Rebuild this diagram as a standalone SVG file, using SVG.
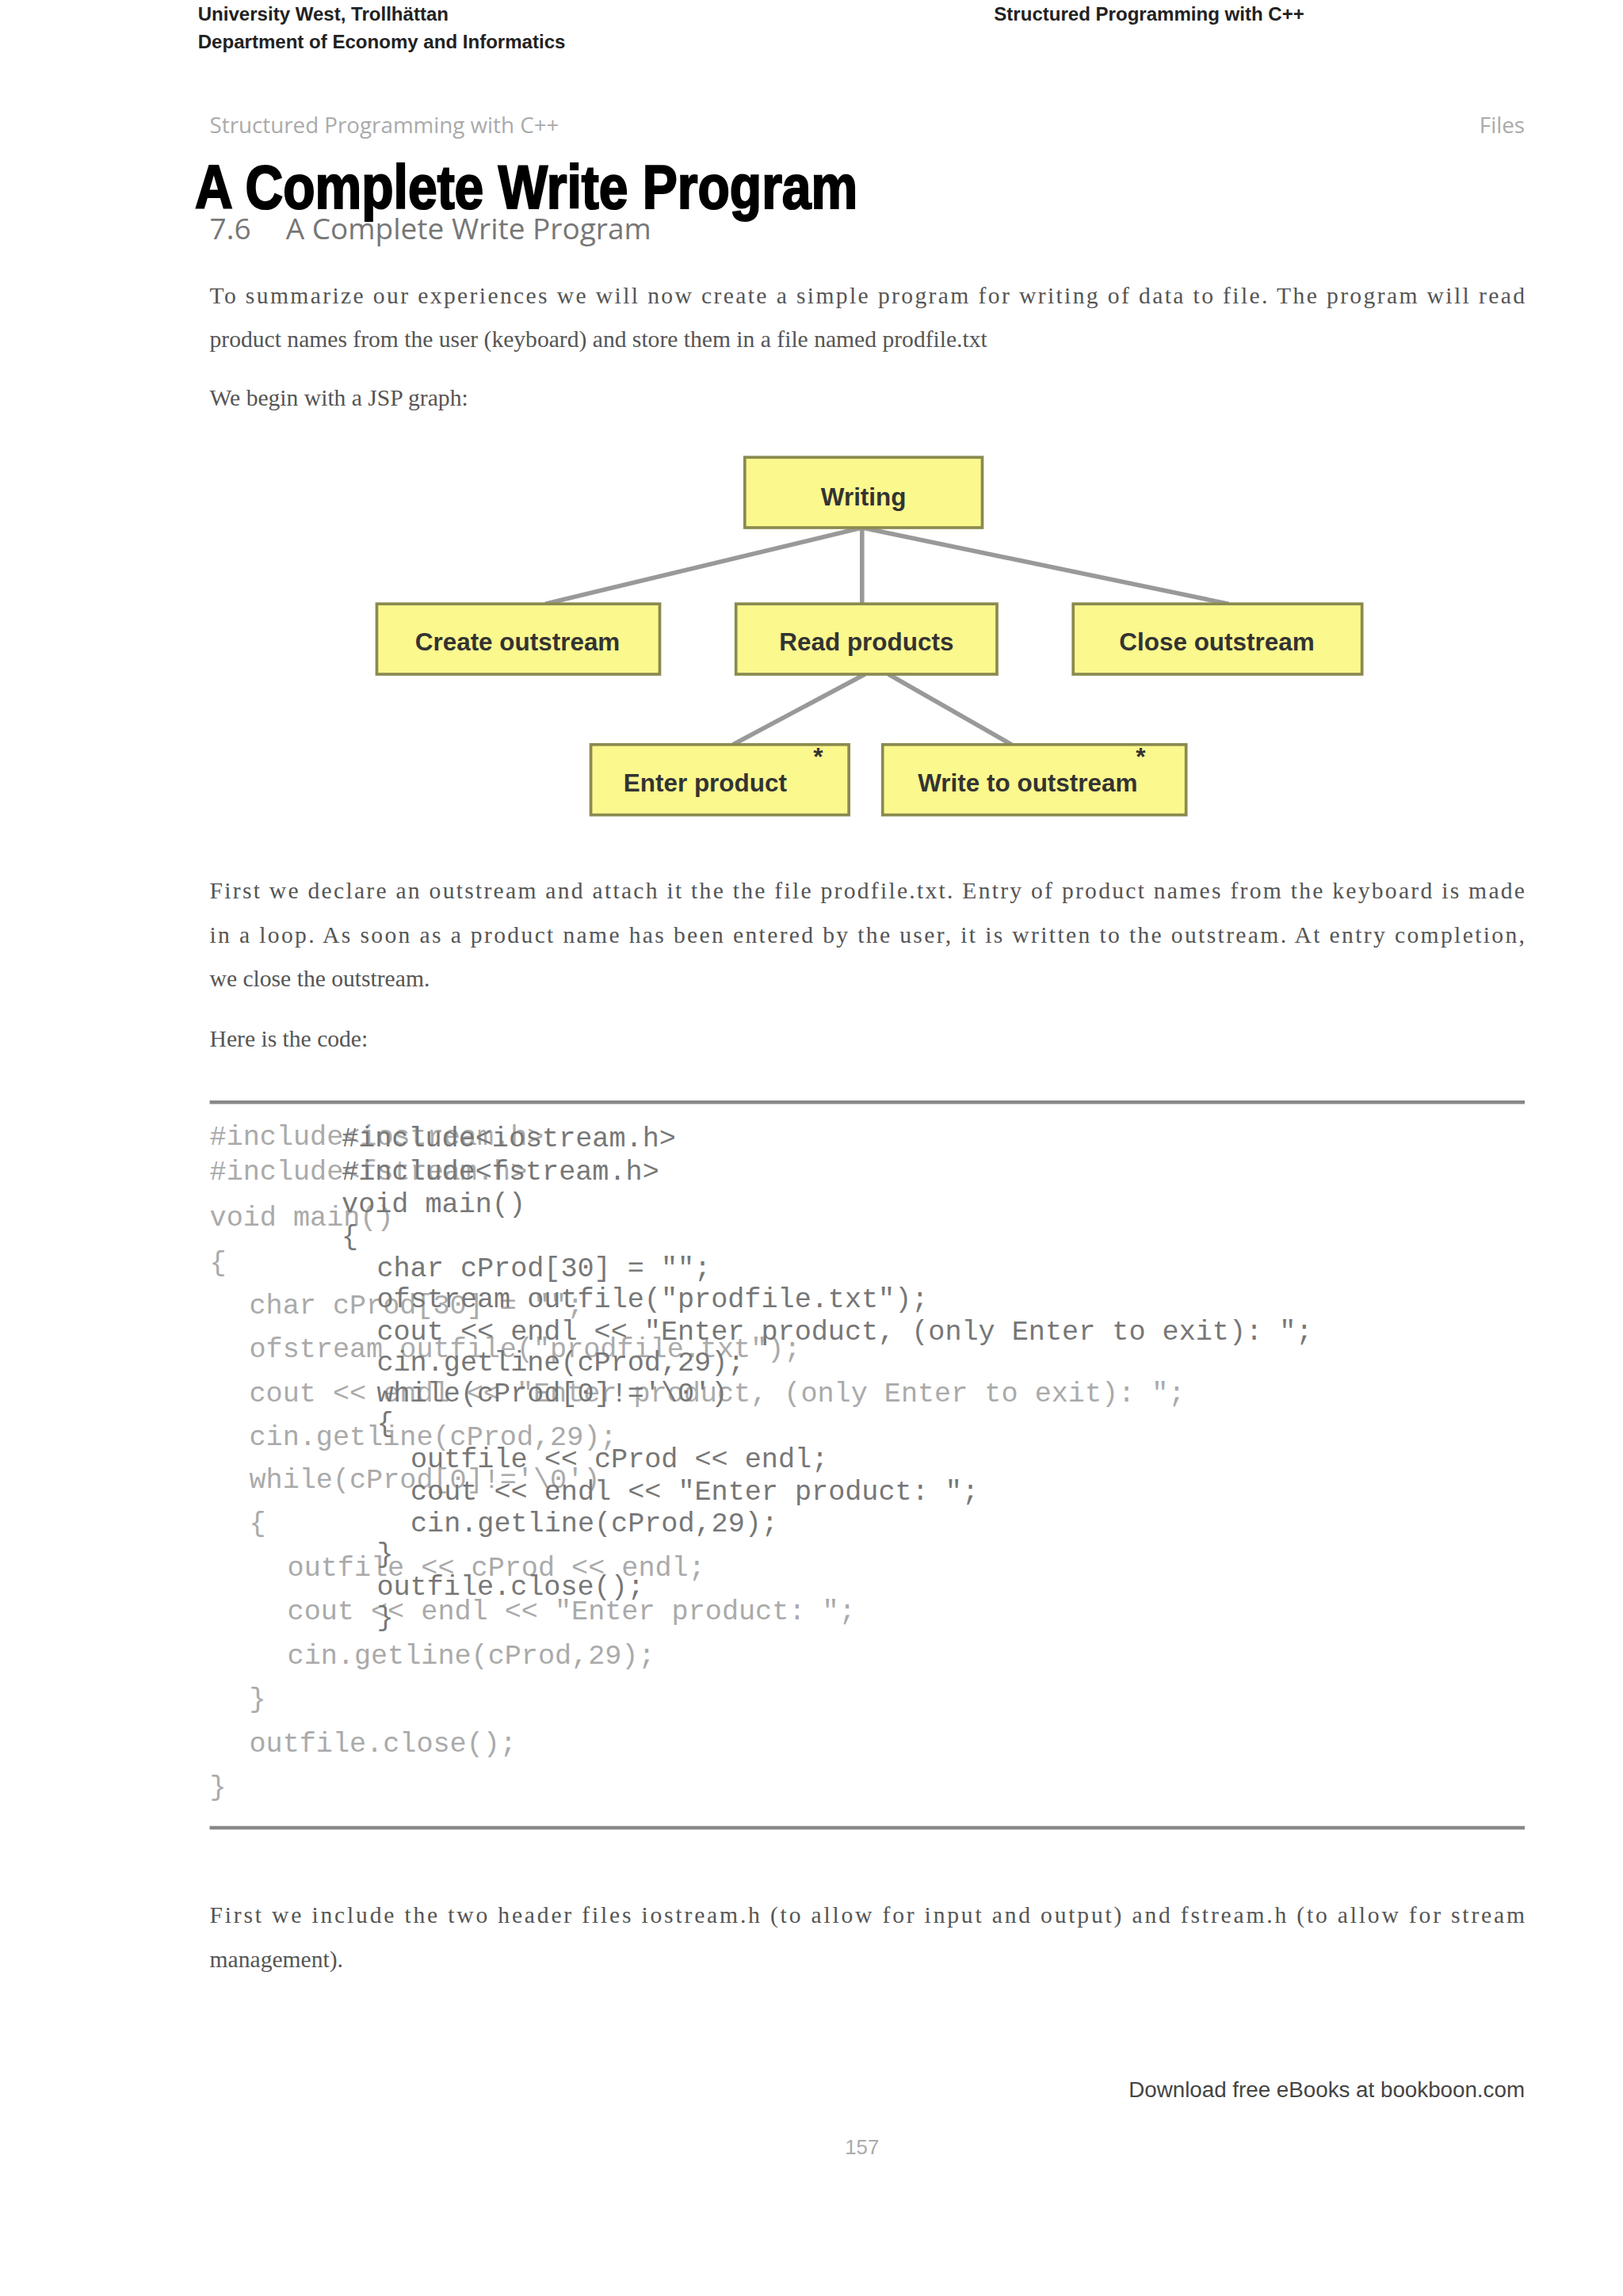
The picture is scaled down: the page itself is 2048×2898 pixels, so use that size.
<svg xmlns="http://www.w3.org/2000/svg" width="2048" height="2898" viewBox="0 0 2048 2898">
<style>
.hd{font-family:"Liberation Sans",Arial,sans-serif;font-weight:bold;font-size:13px;fill:#222}
.gr{font-family:"Open Sans","Liberation Sans",sans-serif;font-size:15px;fill:#aaa}
.body{font-family:"Liberation Serif","Times New Roman",serif;font-size:16px;fill:#555}
.nd rect{fill:#fbf88e;stroke:#8a8a50;stroke-width:2}
.nd text{font-family:"Liberation Sans",Arial,sans-serif;font-weight:bold;font-size:17px;fill:#333;text-anchor:middle}
.st{font-family:"Liberation Sans",Arial,sans-serif;font-weight:bold;font-size:12px;fill:#333}
.ca{font-family:"Liberation Mono","Courier New",monospace;font-size:19px;fill:#aaa}
.cb{font-family:"Liberation Mono","Courier New",monospace;font-size:19px;fill:#777}
.cn line{stroke:#999;stroke-width:3}
</style>
<rect width="2048" height="2898" fill="#fff"/>
<g transform="scale(1.85)">
<text class="hd" x="135" y="14">University West, Trollhättan</text>
<text class="hd" x="135" y="33">Department of Economy and Informatics</text>
<text class="hd" x="678" y="14">Structured Programming with C++</text>
<text class="gr" x="143" y="91">Structured Programming with C++</text>
<text class="gr" x="1040" y="91" text-anchor="end">Files</text>
<text x="133" y="142" font-family="'Liberation Sans Narrow','Liberation Sans',sans-serif" font-weight="900" font-size="42" textLength="452" lengthAdjust="spacingAndGlyphs" fill="#000" stroke="#000" stroke-width="1.2">A Complete Write Program</text>
<text x="143" y="163" font-family="'Open Sans','Liberation Sans',sans-serif" font-size="20" fill="#777">7.6</text>
<text x="195" y="163" font-family="'Open Sans','Liberation Sans',sans-serif" font-size="20" fill="#777">A Complete Write Program</text>
<text class="body" x="143" y="207" textLength="897" lengthAdjust="spacing">To summarize our experiences we will now create a simple program for writing of data to file. The program will read</text>
<text class="body" x="143" y="237">product names from the user (keyboard) and store them in a file named prodfile.txt</text>
<text class="body" x="143" y="277">We begin with a JSP graph:</text>
<g class="cn" id="connectors">
<line x1="588" y1="360" x2="372" y2="412"/>
<line x1="588" y1="360" x2="588" y2="412"/>
<line x1="588" y1="360" x2="838" y2="412"/>
<line x1="590" y1="460" x2="500" y2="508"/>
<line x1="606" y1="460" x2="690" y2="508"/>
</g>
<g class="nd" id="writing"><rect x="508" y="312" width="162" height="48"/><text x="589" y="345">Writing</text></g>
<g class="nd" id="create"><rect x="257" y="412" width="193" height="48"/><text x="353" y="444">Create outstream</text></g>
<g class="nd" id="read"><rect x="502" y="412" width="178" height="48"/><text x="591" y="444">Read products</text></g>
<g class="nd" id="close"><rect x="732" y="412" width="197" height="48"/><text x="830" y="444">Close outstream</text></g>
<g class="nd" id="enter"><rect x="403" y="508" width="176" height="48"/><text x="481" y="540">Enter product</text><text class="st" x="558" y="522">*</text></g>
<g class="nd" id="write"><rect x="602" y="508" width="207" height="48"/><text x="701" y="540">Write to outstream</text><text class="st" x="778" y="522">*</text></g>
<text class="body" x="143" y="613" textLength="897" lengthAdjust="spacing">First we declare an outstream and attach it the the file prodfile.txt. Entry of product names from the keyboard is made</text>
<text class="body" x="143" y="643" textLength="897" lengthAdjust="spacing">in a loop. As soon as a product name has been entered by the user, it is written to the outstream. At entry completion,</text>
<text class="body" x="143" y="673">we close the outstream.</text>
<text class="body" x="143" y="714">Here is the code:</text>
<line x1="143" y1="752" x2="1040" y2="752" stroke="#888" stroke-width="2.5"/>
<line x1="143" y1="1247" x2="1040" y2="1247" stroke="#888" stroke-width="2.5"/>
<g id="codeA">
<text class="ca" x="143" y="781">#include&lt;iostream.h&gt;</text>
<text class="ca" x="143" y="805">#include&lt;fstream.h&gt;</text>
<text class="ca" x="143" y="836">void main()</text>
<text class="ca" x="143" y="867">{</text>
<text class="ca" x="170" y="896">char cProd[30] = "";</text>
<text class="ca" x="170" y="926">ofstream outfile("prodfile.txt");</text>
<text class="ca" x="170" y="956">cout &lt;&lt; endl &lt;&lt; "Enter product, (only Enter to exit): ";</text>
<text class="ca" x="170" y="986">cin.getline(cProd,29);</text>
<text class="ca" x="170" y="1015">while(cProd[0]!='\0')</text>
<text class="ca" x="170" y="1045">{</text>
<text class="ca" x="196" y="1075">outfile &lt;&lt; cProd &lt;&lt; endl;</text>
<text class="ca" x="196" y="1105">cout &lt;&lt; endl &lt;&lt; "Enter product: ";</text>
<text class="ca" x="196" y="1135">cin.getline(cProd,29);</text>
<text class="ca" x="170" y="1165">}</text>
<text class="ca" x="170" y="1195">outfile.close();</text>
<text class="ca" x="143" y="1225">}</text>
</g>
<g id="codeB">
<text class="cb" x="233" y="782">#include&lt;iostream.h&gt;</text>
<text class="cb" x="233" y="805">#include&lt;fstream.h&gt;</text>
<text class="cb" x="233" y="827">void main()</text>
<text class="cb" x="233" y="849">{</text>
<text class="cb" x="257" y="871">char cProd[30] = "";</text>
<text class="cb" x="257" y="892">ofstream outfile("prodfile.txt");</text>
<text class="cb" x="257" y="914">cout &lt;&lt; endl &lt;&lt; "Enter product, (only Enter to exit): ";</text>
<text class="cb" x="257" y="935">cin.getline(cProd,29);</text>
<text class="cb" x="257" y="956">while(cProd[0]!='\0')</text>
<text class="cb" x="257" y="977">{</text>
<text class="cb" x="280" y="1001">outfile &lt;&lt; cProd &lt;&lt; endl;</text>
<text class="cb" x="280" y="1023">cout &lt;&lt; endl &lt;&lt; "Enter product: ";</text>
<text class="cb" x="280" y="1045">cin.getline(cProd,29);</text>
<text class="cb" x="257" y="1066">}</text>
<text class="cb" x="257" y="1088">outfile.close();</text>
<text class="cb" x="257" y="1109">}</text>
</g>
<text class="body" x="143" y="1312" textLength="897" lengthAdjust="spacing">First we include the two header files iostream.h (to allow for input and output) and fstream.h (to allow for stream</text>
<text class="body" x="143" y="1342">management).</text>
<text x="1040" y="1431" text-anchor="end" font-family="'Liberation Sans',Arial,sans-serif" font-size="15" fill="#444">Download free eBooks at bookboon.com</text>
<text x="588" y="1470" text-anchor="middle" font-family="'Liberation Sans',Arial,sans-serif" font-size="14" fill="#aaa">157</text>
</g>
</svg>
